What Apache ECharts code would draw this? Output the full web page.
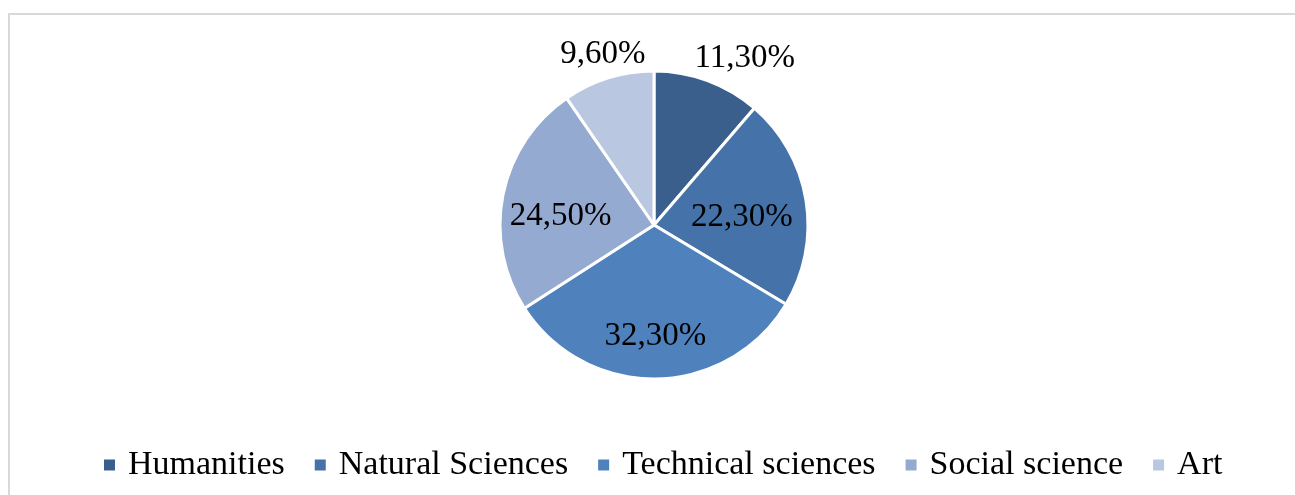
<!DOCTYPE html>
<html>
<head>
<meta charset="utf-8">
<script src="https://cdn.jsdelivr.net/npm/echarts@6/dist/echarts.min.js"></script>
<style>
html,body{margin:0;padding:0;background:#fff;}
#chart{width:1295px;height:495px;}
</style>
</head>
<body>
<div id="chart"></div>
<script>
const categories = ['Humanities', 'Natural Sciences', 'Technical sciences', 'Social science', 'Art'];
const values = [11.3, 22.3, 32.3, 24.5, 9.6];
const labelTexts = ['11,30%', '22,30%', '32,30%', '24,50%', '9,60%'];

const colors = ['#3B5F8D', '#4572A8', '#4F81BD', '#95AAD0', '#BAC7E0'];
const FONT = '"Liberation Serif", "DejaVu Serif", serif';
const outsideSet = [true, false, false, false, true];
const nudges = [[-27, 2], [9, 5], [0, 31], [-15, 7], [50, 1]];

const data = categories.map((name, i) => ({
  name: name,
  value: values[i],
  itemStyle: { color: colors[i] },
  label: {
    position: outsideSet[i] ? 'outside' : 'inside',
    formatter: labelTexts[i]
  },
  labelLine: { show: false, length: 26, length2: 0 }
}));

const chart = echarts.init(document.getElementById('chart'), null, { renderer: 'canvas' });
chart.setOption({
  backgroundColor: '#ffffff',
  animation: false,
  color: colors,
  graphic: [{
    type: 'rect',
    shape: { x: 9, y: 14, width: 1400, height: 1000 },
    style: { fill: 'none', stroke: '#d9d9d9', lineWidth: 2 },
    silent: true
  }],
  legend: {
    left: 97,
    top: 441,
    itemWidth: 13,
    itemHeight: 13,
    itemGap: 28,
    icon: 'rect',
    data: categories,
    textStyle: {
      fontFamily: FONT,
      fontSize: 34,
      color: '#000',
      lineHeight: 38,
      padding: [0, 0, 0, 7]
    }
  },
  series: [{
    type: 'pie',
    center: [654, 225],
    radius: 154,
    startAngle: 90,
    clockwise: true,
    data: data,
    itemStyle: { borderColor: '#ffffff', borderWidth: 3 },
    label: {
      fontFamily: FONT,
      fontSize: 33,
      color: '#000',
      alignTo: 'none',
      distanceToLabelLine: 5
    },
    labelLayout: function (params) {
      const n = nudges[params.dataIndex] || [0, 0];
      return { dx: n[0], dy: n[1] };
    },
    emphasis: { disabled: true }
  }]
});
</script>
</body>
</html>
